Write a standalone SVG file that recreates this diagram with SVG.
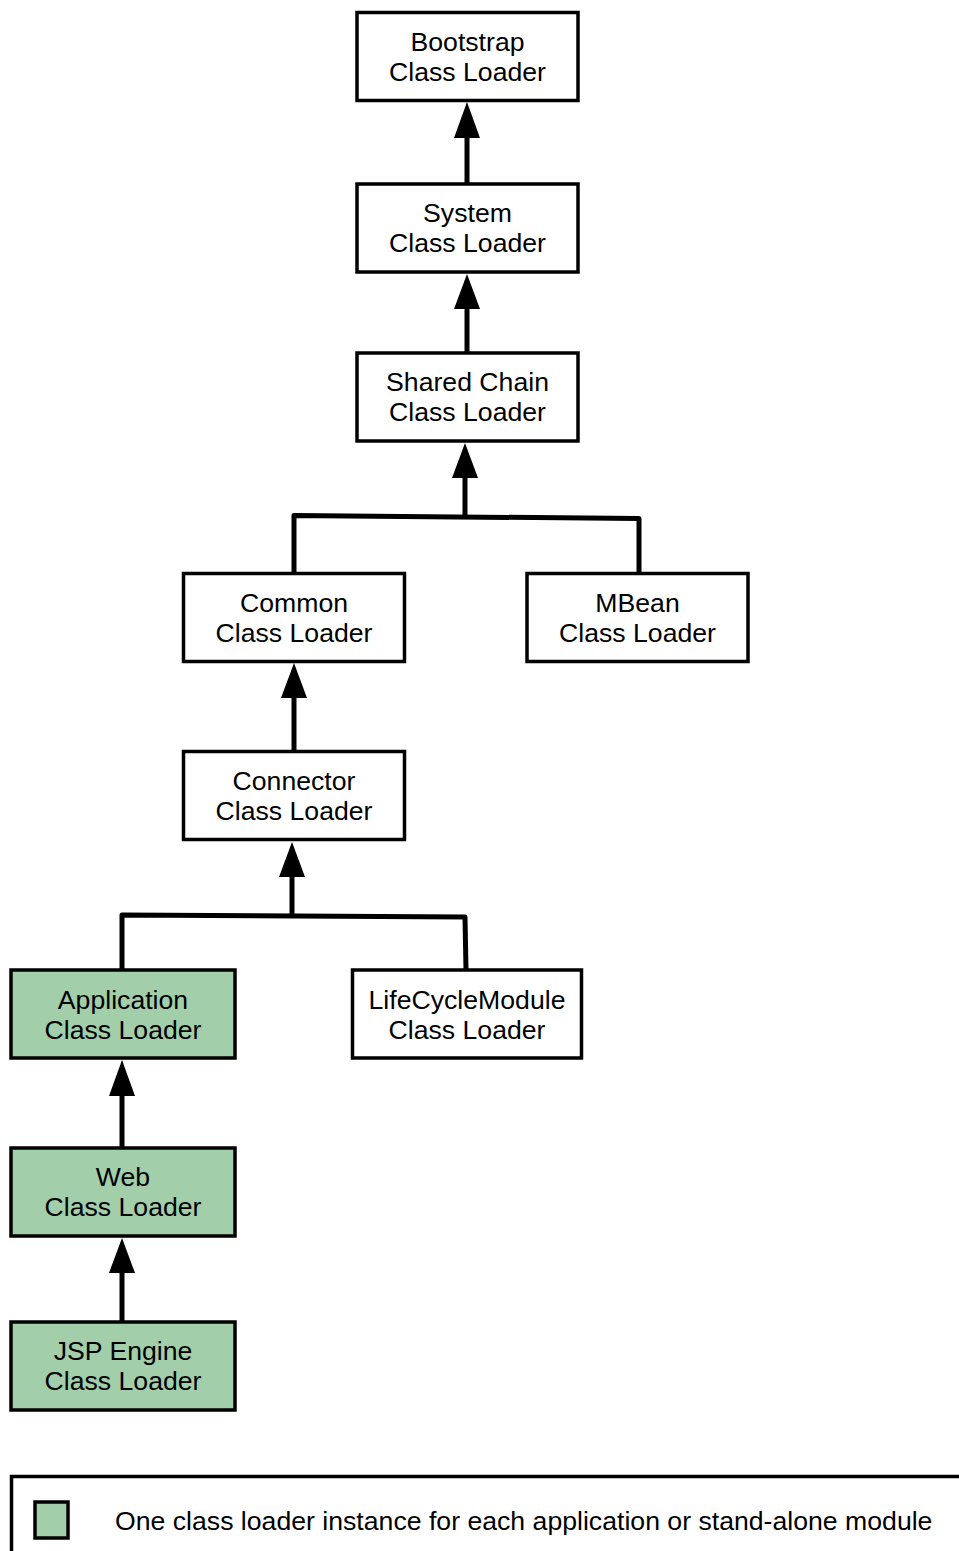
<svg xmlns="http://www.w3.org/2000/svg" width="959" height="1551" viewBox="0 0 959 1551">
  <style>
    .box { fill: #ffffff; stroke: #000000; stroke-width: 3.5; }
    .inst { fill: #a2cfa9; stroke: #000000; stroke-width: 3.5; }
    .lbl { font-family: "Liberation Sans", Arial, sans-serif; font-size: 25px; fill: #000000; text-anchor: middle; }
    .link { fill: none; stroke: #000000; stroke-width: 5; stroke-linejoin: round; }
    .head { fill: #000000; stroke: none; }
  </style>
  <rect width="959" height="1551" fill="#ffffff"/>

  <!-- parent-delegation connectors -->
  <g id="connectors">
    <!-- System -> Bootstrap -->
    <line class="link" x1="467" y1="184" x2="467" y2="135"/>
    <polygon class="head" points="467,102 454,138 480,138"/>
    <!-- Shared Chain -> System -->
    <line class="link" x1="467" y1="353" x2="467" y2="306"/>
    <polygon class="head" points="467,274 454,309 480,309"/>
    <!-- Common / MBean -> Shared Chain -->
    <path class="link" d="M294 573 L294 515.5 L639 518.5 L639 573"/>
    <line class="link" x1="465" y1="515" x2="465" y2="476"/>
    <polygon class="head" points="465,443 452,478 478,478"/>
    <!-- Connector -> Common -->
    <line class="link" x1="294" y1="751" x2="294" y2="695"/>
    <polygon class="head" points="294,663 281,698 307,698"/>
    <!-- Application / LifeCycleModule -> Connector -->
    <path class="link" d="M122 970 L122 915 L465 917 L466 970"/>
    <line class="link" x1="292" y1="915" x2="292" y2="874"/>
    <polygon class="head" points="292,842 279,877 305,877"/>
    <!-- Web -> Application -->
    <line class="link" x1="122" y1="1148" x2="122" y2="1093"/>
    <polygon class="head" points="122,1060 109,1096 135,1096"/>
    <!-- JSP Engine -> Web -->
    <line class="link" x1="122" y1="1322" x2="122" y2="1270"/>
    <polygon class="head" points="122,1238 109,1273 135,1273"/>
  </g>

  <!-- labels are set slightly wide, hence the horizontal scale on each text group -->
  <g id="bootstrap">
    <rect class="box" x="357" y="12.5" width="221" height="88"/>
    <g transform="translate(467.5 0) scale(1.066 1)">
      <text class="lbl" x="0" y="51">Bootstrap</text>
      <text class="lbl" x="0" y="81">Class Loader</text>
    </g>
  </g>
  <g id="system">
    <rect class="box" x="357" y="184" width="221" height="88"/>
    <g transform="translate(467.5 0) scale(1.066 1)">
      <text class="lbl" x="0" y="222">System</text>
      <text class="lbl" x="0" y="252">Class Loader</text>
    </g>
  </g>
  <g id="shared-chain">
    <rect class="box" x="357" y="353" width="221" height="88"/>
    <g transform="translate(467.5 0) scale(1.066 1)">
      <text class="lbl" x="0" y="391">Shared Chain</text>
      <text class="lbl" x="0" y="421">Class Loader</text>
    </g>
  </g>
  <g id="common">
    <rect class="box" x="183.5" y="573.5" width="221" height="88"/>
    <g transform="translate(294 0) scale(1.066 1)">
      <text class="lbl" x="0" y="612">Common</text>
      <text class="lbl" x="0" y="642">Class Loader</text>
    </g>
  </g>
  <g id="mbean">
    <rect class="box" x="527" y="573.5" width="221" height="88"/>
    <g transform="translate(637.5 0) scale(1.066 1)">
      <text class="lbl" x="0" y="612">MBean</text>
      <text class="lbl" x="0" y="642">Class Loader</text>
    </g>
  </g>
  <g id="connector">
    <rect class="box" x="183.5" y="751.5" width="221" height="88"/>
    <g transform="translate(294 0) scale(1.066 1)">
      <text class="lbl" x="0" y="790">Connector</text>
      <text class="lbl" x="0" y="820">Class Loader</text>
    </g>
  </g>
  <g id="application">
    <rect class="inst" x="11" y="970" width="224" height="88"/>
    <g transform="translate(123 0) scale(1.066 1)">
      <text class="lbl" x="0" y="1009">Application</text>
      <text class="lbl" x="0" y="1039">Class Loader</text>
    </g>
  </g>
  <g id="lifecyclemodule">
    <rect class="box" x="352.5" y="970" width="229" height="88"/>
    <g transform="translate(467 0) scale(1.066 1)">
      <text class="lbl" x="0" y="1009">LifeCycleModule</text>
      <text class="lbl" x="0" y="1039">Class Loader</text>
    </g>
  </g>
  <g id="web">
    <rect class="inst" x="11" y="1148" width="224" height="88"/>
    <g transform="translate(123 0) scale(1.066 1)">
      <text class="lbl" x="0" y="1186">Web</text>
      <text class="lbl" x="0" y="1216">Class Loader</text>
    </g>
  </g>
  <g id="jsp-engine">
    <rect class="inst" x="11" y="1322" width="224" height="88"/>
    <g transform="translate(123 0) scale(1.066 1)">
      <text class="lbl" x="0" y="1360">JSP Engine</text>
      <text class="lbl" x="0" y="1390">Class Loader</text>
    </g>
  </g>

  <!-- legend -->
  <g id="legend">
    <rect class="box" x="11.5" y="1476.5" width="960" height="100"/>
    <rect class="inst" x="35" y="1502" width="33" height="36" stroke-width="3"/>
    <g transform="translate(115 0) scale(1.066 1)">
      <text class="lbl" x="0" y="1530" style="text-anchor:start">One class loader instance for each application or stand-alone module</text>
    </g>
  </g>
</svg>
